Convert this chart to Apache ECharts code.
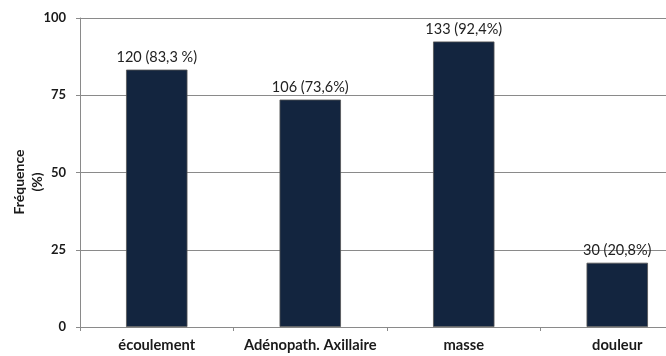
<!DOCTYPE html>
<html>
<head>
<meta charset="utf-8">
<script src="https://cdn.jsdelivr.net/npm/echarts@6/dist/echarts.min.js"></script>
<style>html,body{margin:0;padding:0;background:#fff;overflow:hidden;width:666px;height:356px;}#c{width:694px;height:356px;}</style>
</head>
<body>
<div id="c"></div>
<script>
const categories = ["écoulement", "Adénopath. Axillaire", "masse", "douleur"];
const counts = [120, 106, 133, 30];
const percents = [83.3, 73.6, 92.4, 20.8];
const labels = ["120 (83,3 %)", "106 (73,6%)", "133 (92,4%)", "30 (20,8%)"];
const yTicks = [0, 25, 50, 75, 100];
const yTitle = "Fréquence\n(%)";

const chart = echarts.init(document.getElementById('c'), null, {renderer: 'canvas'});
chart.setOption({
  animation: false,
  textStyle: {fontFamily: 'Lato'},
  grid: {left: 80, right: 0, top: 18, bottom: 29, containLabel: false},
  graphic: [{
    type: 'text',
    x: 28, y: 182,
    rotation: Math.PI / 2,
    style: {
      text: yTitle, fill: '#1a1a1a', font: 'bold 14px Lato',
      align: 'center', verticalAlign: 'middle', lineHeight: 18
    }
  }],
  xAxis: {
    type: 'category',
    data: categories,
    axisLine: {lineStyle: {color: '#8a8a8a', width: 1}},
    axisTick: {show: true, length: 4, lineStyle: {color: '#8a8a8a'}},
    axisLabel: {interval: 0, color: '#1a1a1a', fontWeight: 'bold', fontSize: 14.7, fontFamily: 'Lato', margin: 11}
  },
  yAxis: {
    type: 'value',
    min: yTicks[0], max: yTicks[yTicks.length - 1], interval: 25,
    axisLine: {show: true, lineStyle: {color: '#8a8a8a'}},
    axisTick: {show: true, length: 4, lineStyle: {color: '#8a8a8a'}},
    axisLabel: {color: '#1a1a1a', fontWeight: 'bold', fontSize: 13, fontFamily: 'Lato', margin: 14},
    splitLine: {show: true, lineStyle: {color: '#8a8a8a', width: 1}}
  },
  series: [{
    type: 'bar',
    data: percents,
    barWidth: '40%',
    itemStyle: {color: '#13253f', borderColor: '#555', borderWidth: 0.8},
    label: {
      show: true, position: 'top', distance: 5,
      color: '#222', fontSize: 14.5, fontFamily: 'Lato',
      formatter: p => labels[p.dataIndex]
    }
  }]
});
</script>
</body>
</html>
